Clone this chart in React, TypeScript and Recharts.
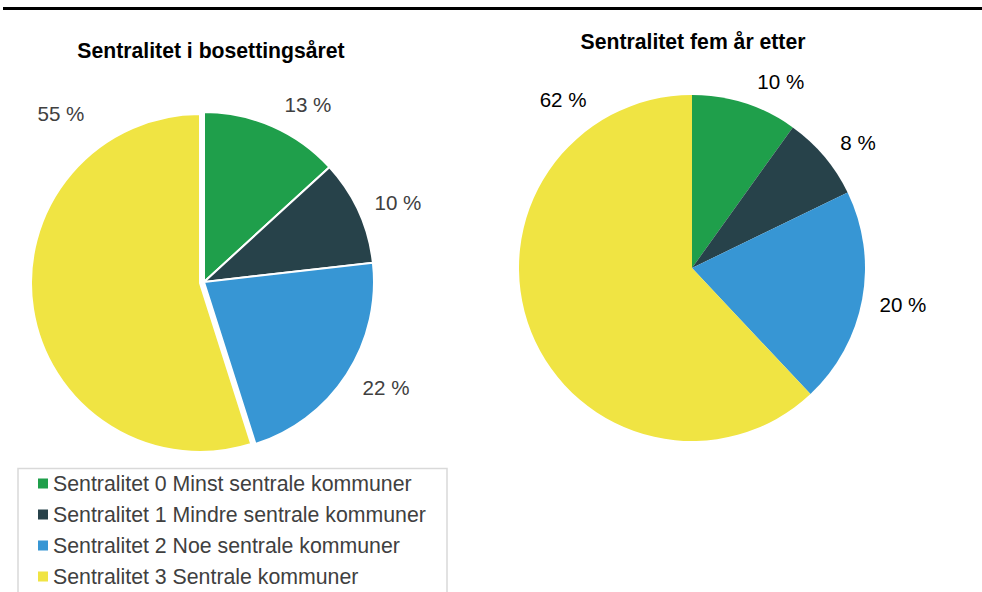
import React from "react";
import { PieChart, Pie, Cell } from "recharts";

// ---- data ----
const categories = [
  "Sentralitet 0 Minst sentrale kommuner",
  "Sentralitet 1 Mindre sentrale kommuner",
  "Sentralitet 2 Noe sentrale kommuner",
  "Sentralitet 3 Sentrale kommuner",
];
const settlementYear = [13.2, 10.0, 21.9, 54.9];
const fiveYearsAfter = [9.9, 7.9, 20.2, 62.0];
const titles = ["Sentralitet i bosettingsåret", "Sentralitet fem år etter"];

// ---- styles / layout ----
const COLORS = ["#1F9F4B", "#27424A", "#3796D4", "#F0E443"];
const FONT = "'Liberation Sans', Arial, Helvetica, sans-serif";
// label placement: angle clockwise from 12 o'clock, and radial offset beyond the rim
const LEFT_LABEL_ANGLE = [30.3, 67.8, 120.2, 320.7];
const LEFT_LABEL_OFF = [36, 39.5, 40.6, 50.6];
const RIGHT_LABEL_ANGLE = [25.4, 52.8, 99.7, 322.6];
const RIGHT_LABEL_OFF = [34, 35.4, 41, 39.2];

const leftData = categories.map((name, i) => ({ name, value: settlementYear[i] }));
const rightData = categories.map((name, i) => ({ name, value: fiveYearsAfter[i] }));

const makeLabel =
  (angles: number[], offs: number[], color: string, only: (i: number) => boolean) =>
  (props: any) => {
    const { cx, cy, outerRadius, index, value } = props;
    if (!only(index)) return null;
    const th = (angles[index] * Math.PI) / 180;
    const r = outerRadius + offs[index];
    const x = cx + r * Math.sin(th);
    const y = cy - r * Math.cos(th);
    return (
      <text
        key={"l" + index}
        x={x}
        y={y}
        textAnchor="middle"
        dominantBaseline="central"
        fill={color}
        fontFamily={FONT}
        fontSize={20.6}
      >
        {Math.round(value) + " %"}
      </text>
    );
  };

export default function App() {
  return (
    <div style={{ position: "absolute", left: 0, top: 0, width: 982, height: 592, background: "#fff", overflow: "hidden" }}>
      <PieChart
        width={982}
        height={592}
        margin={{ top: 0, right: 0, bottom: 0, left: 0 }}
        style={{ position: "absolute", left: 0, top: 0 }}
      >
        {/* left pie: non-exploded slices */}
        <Pie
          data={leftData}
          dataKey="value"
          nameKey="name"
          cx={204}
          cy={282}
          outerRadius={170}
          startAngle={90}
          endAngle={-270}
          isAnimationActive={false}
          labelLine={false}
          label={makeLabel(LEFT_LABEL_ANGLE, LEFT_LABEL_OFF, "#404040", (i) => i < 3)}
        >
          {leftData.map((d, i) => (
            <Cell
              key={d.name}
              fill={i < 3 ? COLORS[i] : "transparent"}
              stroke={i < 3 ? "#ffffff" : "none"}
              strokeWidth={2}
            />
          ))}
        </Pie>
        {/* left pie: exploded largest slice */}
        <Pie
          data={leftData}
          dataKey="value"
          nameKey="name"
          cx={200}
          cy={283}
          outerRadius={169}
          startAngle={90}
          endAngle={-270}
          isAnimationActive={false}
          labelLine={false}
          label={makeLabel(LEFT_LABEL_ANGLE, LEFT_LABEL_OFF, "#404040", (i) => i === 3)}
        >
          {leftData.map((d, i) => (
            <Cell
              key={d.name}
              fill={i === 3 ? COLORS[i] : "transparent"}
              stroke={i === 3 ? "#ffffff" : "none"}
              strokeWidth={2}
            />
          ))}
        </Pie>
        {/* right pie */}
        <Pie
          data={rightData}
          dataKey="value"
          nameKey="name"
          cx={692}
          cy={268}
          outerRadius={173}
          startAngle={90}
          endAngle={-270}
          isAnimationActive={false}
          labelLine={false}
          label={makeLabel(RIGHT_LABEL_ANGLE, RIGHT_LABEL_OFF, "#000000", () => true)}
        >
          {rightData.map((d, i) => (
            <Cell key={d.name} fill={COLORS[i]} stroke="none" />
          ))}
        </Pie>
      </PieChart>

      <svg
        width={982}
        height={592}
        style={{ position: "absolute", left: 0, top: 0, pointerEvents: "none" }}
      >
        <rect x={3} y={7} width={979} height={3} fill="#000" />
        <text x={211} y={58} textAnchor="middle" fontFamily={FONT} fontWeight="bold" fontSize={21.2} fill="#000">
          {titles[0]}
        </text>
        <text x={693} y={49} textAnchor="middle" fontFamily={FONT} fontWeight="bold" fontSize={21.2} fill="#000">
          {titles[1]}
        </text>
        <rect x={18} y={468.5} width={429} height={140} fill="#fff" stroke="#d9d9d9" strokeWidth={1.5} />
        {categories.map((c, i) => (
          <g key={c}>
            <rect x={38} y={478.5 + i * 31} width={10} height={10} fill={COLORS[i]} />
            <text
              x={53}
              y={483.5 + i * 31}
              dominantBaseline="central"
              fontFamily={FONT}
              fontSize={21.3}
              fill="#404040"
            >
              {c}
            </text>
          </g>
        ))}
      </svg>
    </div>
  );
}
